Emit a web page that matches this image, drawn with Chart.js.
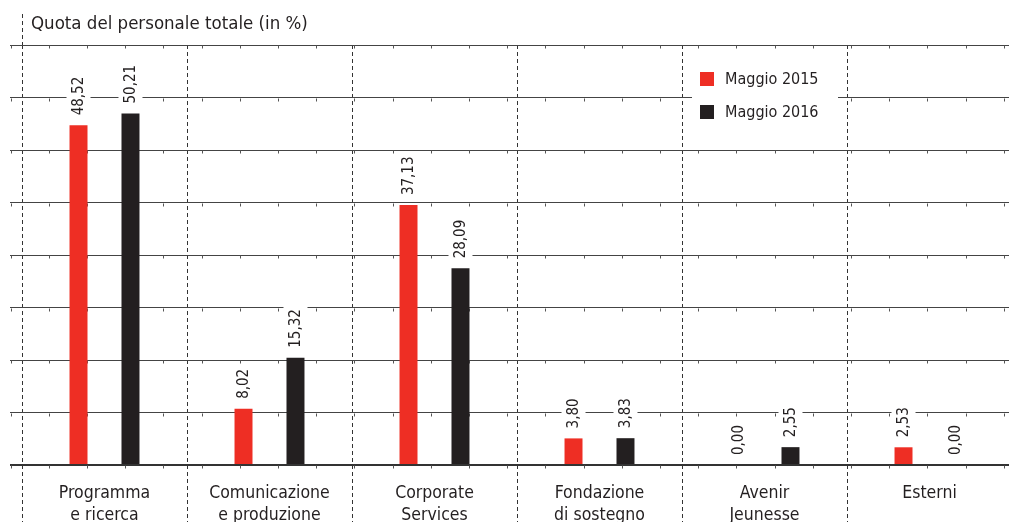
<!DOCTYPE html>
<html>
<head>
<meta charset="utf-8">
<script src="https://cdn.jsdelivr.net/npm/chart.js@4/dist/chart.umd.min.js"></script>
<style>
  html, body { margin: 0; padding: 0; background: #fff; overflow: hidden; }
  #wrap { position: relative; width: 1016px; height: 543px; }
</style>
</head>
<body>
<div id="wrap"><canvas id="staffChart" width="1016" height="543"></canvas></div>
<script>
const chartTitle = "Quota del personale totale (in %)";
const categories = [
  ["Programma", "e ricerca"],
  ["Comunicazione", "e produzione"],
  ["Corporate", "Services"],
  ["Fondazione", "di sostegno"],
  ["Avenir", "Jeunesse"],
  ["Esterni"]
];
const seriesLabels = ["Maggio 2015", "Maggio 2016"];
const values2015 = [48.52, 8.02, 37.13, 3.80, 0.00, 2.53];
const values2016 = [50.21, 15.32, 28.09, 3.83, 2.55, 0.00];
const yMax = 60;
const yStep = 7.5;

const RED = "#ee2e24";
const BLACK = "#231f20";
const FONT = "'DejaVu Sans Condensed', 'DejaVu Sans', sans-serif";

// title, dashed extensions, small marks on the grid, value labels, legend
const decorations = {
  id: "decorations",
  beforeDatasetsDraw(chart) {
    const { ctx, chartArea, scales } = chart;
    ctx.save();
    // little marks hanging under each horizontal grid line
    ctx.strokeStyle = "#555";
    ctx.lineWidth = 1;
    scales.y.ticks.forEach((t) => {
      const y = Math.round(scales.y.getPixelForValue(t.value)) + 0.5;
      for (let x = 10.6; x < chart.width; x += 38.2) {
        ctx.beginPath();
        ctx.moveTo(Math.round(x) + 0.5, y);
        ctx.lineTo(Math.round(x) + 0.5, y + 3);
        ctx.stroke();
      }
    });
    // dashed category separators continue below the axis, left one also up to the title
    ctx.setLineDash([4, 3]);
    ctx.strokeStyle = "#333";
    const half = (scales.x.getPixelForValue(1) - scales.x.getPixelForValue(0)) / 2;
    for (let i = 0; i <= categories.length; i++) {
      const x = Math.round(scales.x.getPixelForValue(i) - half) + 0.5;
      ctx.beginPath();
      ctx.moveTo(x, chartArea.bottom);
      ctx.lineTo(x, chart.height);
      ctx.stroke();
    }
    ctx.beginPath();
    ctx.moveTo(chartArea.left + 0.5, 14);
    ctx.lineTo(chartArea.left + 0.5, chartArea.top);
    ctx.stroke();
    ctx.restore();

    ctx.save();
    ctx.fillStyle = BLACK;
    ctx.font = "18.5px " + FONT;
    ctx.textBaseline = "middle";
    ctx.fillText(chartTitle, 31, 24);
    ctx.restore();
  },
  afterDatasetsDraw(chart) {
    const { ctx } = chart;
    ctx.save();
    ctx.font = "15px " + FONT;
    ctx.textBaseline = "middle";
    ctx.textAlign = "left";
    chart.data.datasets.forEach((ds, i) => {
      chart.getDatasetMeta(i).data.forEach((bar, j) => {
        const txt = ds.data[j].toFixed(2).replace(".", ",");
        const w = ctx.measureText(txt).width;
        ctx.save();
        ctx.translate(bar.x, bar.y - 10);
        ctx.rotate(-Math.PI / 2);
        ctx.fillStyle = "#fff";
        ctx.fillRect(-3, -12, w + 6, 24);
        ctx.fillStyle = BLACK;
        ctx.fillText(txt, 0, 1);
        ctx.restore();
      });
    });
    ctx.restore();
  },
  afterDraw(chart) {
    const { ctx } = chart;
    ctx.save();
    ctx.fillStyle = "#fff";
    ctx.fillRect(692, 60, 146, 70);
    ctx.font = "16px " + FONT;
    ctx.textBaseline = "middle";
    chart.data.datasets.forEach((ds, i) => {
      const cy = 79 + i * 33;
      ctx.fillStyle = ds.backgroundColor;
      ctx.fillRect(700, cy - 7, 14, 14);
      ctx.fillStyle = BLACK;
      ctx.fillText(ds.label, 725, cy + 1);
    });
    ctx.restore();
  }
};

new Chart(document.getElementById("staffChart"), {
  type: "bar",
  data: {
    labels: categories,
    datasets: [
      { label: seriesLabels[0], data: values2015, backgroundColor: RED },
      { label: seriesLabels[1], data: values2016, backgroundColor: BLACK }
    ]
  },
  options: {
    responsive: false,
    animation: false,
    devicePixelRatio: 1,
    categoryPercentage: 0.63,
    barPercentage: 0.346,
    layout: { padding: { top: 45, left: 10, right: 4, bottom: 0 } },
    plugins: {
      legend: { display: false },
      tooltip: { enabled: false }
    },
    scales: {
      x: {
        offset: true,
        border: { display: false, dash: [4, 3] },
        grid: {
          offset: true,
          color: "#333",
          lineWidth: 1,
          drawTicks: false
        },
        ticks: {
          color: BLACK,
          font: { family: FONT, size: 17.5, lineHeight: "22px" },
          padding: 17,
          maxRotation: 0,
          autoSkip: false
        }
      },
      y: {
        min: 0,
        max: yMax,
        border: { display: false },
        grid: {
          color: (c) => (c.tick && c.tick.value === 0 ? "#333" : "#444"),
          lineWidth: (c) => (c.tick && c.tick.value === 0 ? 2 : 1),
          tickLength: 12
        },
        ticks: { display: false, stepSize: yStep }
      }
    }
  },
  plugins: [decorations]
});
</script>
</body>
</html>
